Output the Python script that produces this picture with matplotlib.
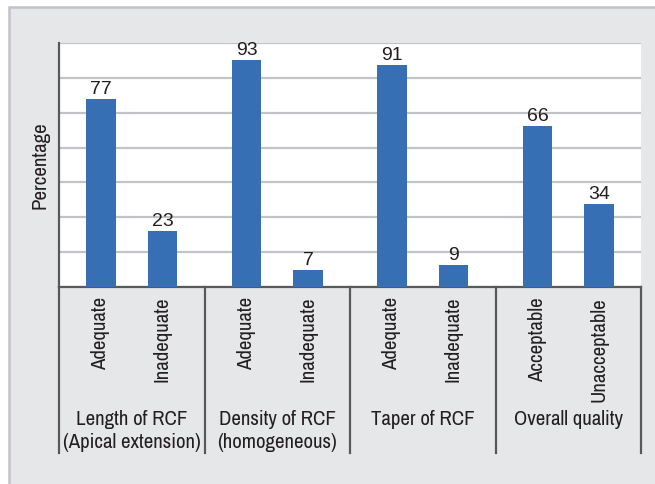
import numpy as np
import matplotlib.pyplot as plt
from matplotlib.patches import Rectangle
from matplotlib.lines import Line2D

plt.rcParams['font.family'] = ['Archivo Narrow', 'Liberation Sans', 'DejaVu Sans']

groups = ['Length of RCF\n(Apical extension)', 'Density of RCF\n(homogeneous)',
          'Taper of RCF', 'Overall quality']
bar_labels = ['Adequate', 'Inadequate', 'Adequate', 'Inadequate',
              'Adequate', 'Inadequate', 'Acceptable', 'Unacceptable']
values = [77, 23, 93, 7, 91, 9, 66, 34]

bar_color = '#366fb4'
panel_color = '#e6e7e9'
grid_color = '#c2c3c7'
axis_color = '#58595b'
text_color = '#231f20'

fig = plt.figure(figsize=(6.55, 4.84), dpi=100, facecolor='white')

# grey panel behind the chart
fig.patches.append(Rectangle((8.5 / 655, -0.01), 1.0, (484 - 7.5) / 484 + 0.01,
                             transform=fig.transFigure, facecolor=panel_color,
                             edgecolor=grid_color, linewidth=1.8, zorder=-5))

ax = fig.add_axes([59 / 655, (484 - 287) / 484, 582 / 655, 244 / 484])
ax.set_facecolor('white')

# two bars per group
n_groups = len(groups)
x = np.repeat(np.arange(n_groups), 2) + np.tile([-0.2113, 0.2113], n_groups)
bars = ax.bar(x, values, width=0.2, color=bar_color, zorder=3)

for xi, v in zip(x, values):
    ax.annotate(str(v), (xi, v), xytext=(0, 0.5), textcoords='offset points',
                ha='center', va='bottom', fontsize=14, color=text_color, zorder=4,
                family=['Liberation Sans', 'DejaVu Sans'])

ax.set_xlim(-0.5, n_groups - 0.5)
ax.set_ylim(0, 100)
ax.set_yticks(np.linspace(0, 100, 8))
ax.set_yticklabels([])
ax.tick_params(axis='y', length=0)
ax.grid(axis='y', color=grid_color, linewidth=1.6, zorder=1)
ax.set_xticks([])

for side in ['top', 'right']:
    ax.spines[side].set_visible(False)
ax.spines['left'].set_color(axis_color)
ax.spines['bottom'].set_color(axis_color)
ax.spines['left'].set_linewidth(1.6)
ax.spines['bottom'].set_linewidth(1.6)

# category labels under each bar
trans = ax.get_xaxis_transform()
for xi, lab in zip(x, bar_labels):
    ax.text(xi, -10 / 244, lab, transform=trans, rotation=90,
            ha='center', va='top', fontsize=15, color=text_color)

# group separators below the axis
sep_bottom = -(453 - 287) / 244
for b in np.arange(-0.5, n_groups, 1.0):
    ax.add_line(Line2D([b, b], [0, sep_bottom], transform=trans, color=axis_color,
                       linewidth=1.6, clip_on=False))

for g, name in enumerate(groups):
    ax.text(g, -(410 - 287) / 244, name, transform=trans, ha='center', va='top',
            fontsize=15, color=text_color, linespacing=1.3)

ax.set_ylabel('Percentage', fontsize=15, color=text_color, labelpad=3)

fig.savefig('out.png', dpi=100, facecolor=fig.get_facecolor())
